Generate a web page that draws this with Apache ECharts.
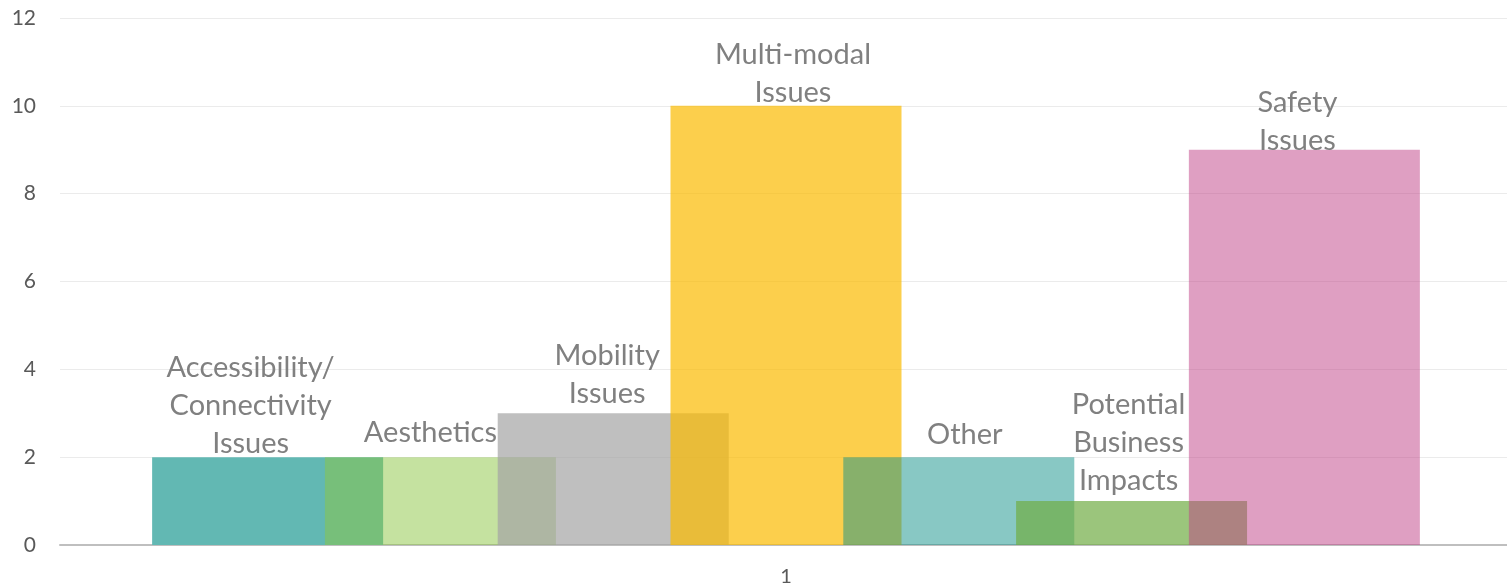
<!DOCTYPE html>
<html>
<head>
<meta charset="utf-8">
<script src="https://cdn.jsdelivr.net/npm/echarts@6/dist/echarts.min.js"></script>
<style>
  html, body { margin: 0; padding: 0; background: #ffffff; }
  #chart { width: 1507px; height: 585px; }
</style>
</head>
<body>
<div id="chart"></div>
<script>
// ---- data ----
const categories = ['1'];
const seriesNames = [
  'Accessibility/ Connectivity Issues',
  'Aesthetics',
  'Mobility Issues',
  'Multi-modal Issues',
  'Other',
  'Potential Business Impacts',
  'Safety Issues'
];
const seriesValues = [2, 2, 3, 10, 2, 1, 9];
const yTicks = [0, 2, 4, 6, 8, 10, 12];

// ---- styles ----
const barColors = [
  'rgba(98,184,179,1)',
  'rgba(139,197,65,0.5)',
  'rgba(164,164,164,0.7)',
  'rgba(251,187,0,0.7)',
  'rgba(17,145,138,0.5)',
  'rgba(112,172,68,0.7)',
  'rgba(191,63,133,0.5)'
];
const labelShift = [[-17, 0], [-10, -11], [-6, -6], [7, 1], [6, -9], [-3, -6], [-7, 5]];

const FONT = 'Lato';
const series = seriesNames.map((name, i) => ({
  name: name,
  type: 'bar',
  data: [seriesValues[i]],
  barWidth: 231,
  barGap: '-25.2%',
  itemStyle: { color: barColors[i] },
  label: {
    show: true,
    position: 'top',
    distance: -5,
    offset: labelShift[i],
    formatter: p => p.seriesName.split(' ').join('\n'),
    color: '#808080',
    fontFamily: FONT,
    fontSize: 29,
    lineHeight: 38,
    align: 'center'
  }
}));

const chart = echarts.init(document.getElementById('chart'), null, { renderer: 'canvas' });
chart.setOption({
  animation: false,
  backgroundColor: '#ffffff',
  grid: { left: 60, right: -5, top: 18, bottom: 40, containLabel: false, outerBoundsMode: 'none' },
  xAxis: {
    type: 'category',
    data: categories,
    boundaryGap: true,
    axisTick: { show: false },
    axisLine: { show: true, lineStyle: { color: '#bfbfbf', width: 2 } },
    axisLabel: { color: '#595959', fontFamily: FONT, fontSize: 20, margin: 22 }
  },
  yAxis: {
    type: 'value',
    min: yTicks[0],
    max: yTicks[yTicks.length - 1],
    interval: yTicks[1] - yTicks[0],
    axisLine: { show: false },
    axisTick: { show: false },
    splitLine: { show: true, lineStyle: { color: '#ebebeb', width: 1 } },
    axisLabel: { color: '#595959', fontFamily: FONT, fontSize: 21, margin: 24 }
  },
  series: series
});
</script>
</body>
</html>
